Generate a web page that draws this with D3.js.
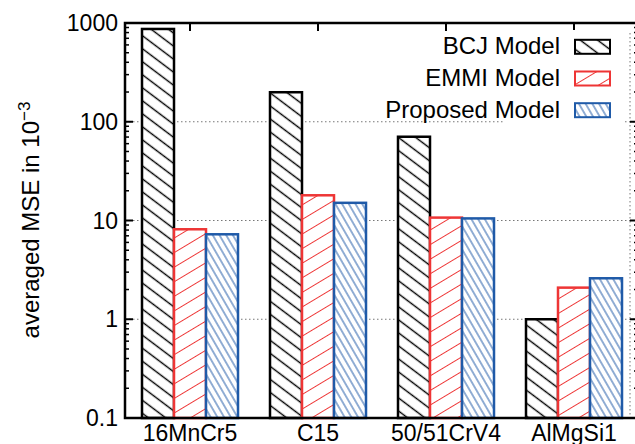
<!DOCTYPE html>
<html>
<head>
<meta charset="utf-8">
<script src="https://cdn.jsdelivr.net/npm/d3@7"></script>
<style>
  html, body { margin: 0; padding: 0; background: #fff; }
  svg { display: block; }
  text { font-family: "Liberation Sans", Arial, Helvetica, sans-serif; fill: #000; }
</style>
</head>
<body>
<svg id="chart" width="635" height="444"></svg>
<script>
// ---- data ----
const categories = ["16MnCr5", "C15", "50/51CrV4", "AlMgSi1"];
const seriesNames = ["BCJ Model", "EMMI Model", "Proposed Model"];
const bcjValues = [870, 199, 70.5, 1.0];
const emmiValues = [8.15, 18.0, 10.7, 2.09];
const proposedValues = [7.25, 15.1, 10.5, 2.6];
const yTickValues = [0.1, 1, 10, 100, 1000];
const yTickLabels = ["0.1", "1", "10", "100", "1000"];
const yLabel = "averaged MSE in 10";
const yLabelExp = "\u22123";

const seriesValues = [bcjValues, emmiValues, proposedValues];
const seriesColors = ["#000000", "#ee3535", "#1f5aa8"];
const patternIds = ["pat-bcj", "pat-emmi", "pat-prop"];

const svg = d3.select("#chart");
const pL = 125, pR = 638, pT = 23, pB = 418;

const x = d3.scaleBand().domain(categories).range([126, 638]).paddingInner(0.25).paddingOuter(0.125);
const xs = d3.scaleBand().domain(seriesNames).range([0, x.bandwidth()]);
const y = d3.scaleLog().domain([0.1, 1000]).range([pB, pT]);

// ---- patterns ----
const defs = svg.append("defs");
function linePattern(id, color, spacing, angle, width) {
  const p = defs.append("pattern")
    .attr("id", id)
    .attr("patternUnits", "userSpaceOnUse")
    .attr("width", 40).attr("height", spacing)
    .attr("patternTransform", `rotate(${angle})`);
  p.append("rect").attr("width", 40).attr("height", spacing).attr("fill", "#fff");
  p.append("line").attr("x1", 0).attr("x2", 40)
    .attr("y1", spacing / 2).attr("y2", spacing / 2)
    .attr("stroke", color).attr("stroke-width", width);
}
linePattern("pat-bcj", "#000", 10.4, 37, 1.2);
linePattern("pat-emmi", "#ee3535", 12.5, -31, 1.2);
linePattern("pat-prop", "#1f5aa8", 5.8, 60, 1.2);

// ---- grid ----
const grid = svg.append("g");
[1, 10, 100].forEach(v => {
  grid.append("line")
    .attr("x1", pL).attr("x2", pR)
    .attr("y1", y(v)).attr("y2", y(v))
    .attr("stroke", "#777").attr("stroke-width", 1)
    .attr("stroke-dasharray", "1.5,2.5");
});
grid.append("line")
  .attr("x1", 630).attr("x2", 630).attr("y1", pT + 10).attr("y2", pB)
  .attr("stroke", "#777").attr("stroke-width", 1).attr("stroke-dasharray", "1.5,2.5");

// ---- bottom ticks (behind bars) ----
categories.forEach(c => {
  const cx = x(c) + x.bandwidth() / 2;
  svg.append("line").attr("x1", cx).attr("x2", cx).attr("y1", pB).attr("y2", pB - 8)
    .attr("stroke", "#000").attr("stroke-width", 2);
});

// ---- bars ----
const bars = svg.append("g");
seriesNames.forEach((s, si) => {
  bars.selectAll(null)
    .data(categories.map((c, i) => ({ c, v: seriesValues[si][i] })))
    .enter().append("rect")
    .attr("x", d => x(d.c) + xs(s))
    .attr("width", xs.bandwidth())
    .attr("y", d => y(d.v))
    .attr("height", d => pB - y(d.v))
    .attr("fill", `url(#${patternIds[si]})`)
    .attr("stroke", seriesColors[si])
    .attr("stroke-width", 2.5);
});

// ---- axes ----
const axesG = svg.append("g");
const minor = [];
for (let e = -1; e < 3; e++) for (let m = 2; m <= 9; m++) minor.push(m * Math.pow(10, e));
minor.forEach(v => {
  axesG.append("line").attr("x1", pL).attr("x2", pL + 4).attr("y1", y(v)).attr("y2", y(v))
    .attr("stroke", "#000").attr("stroke-width", 1.5);
  axesG.append("line").attr("x1", pR).attr("x2", pR - 4).attr("y1", y(v)).attr("y2", y(v))
    .attr("stroke", "#000").attr("stroke-width", 1.5);
});
yTickValues.forEach((v, i) => {
  axesG.append("line").attr("x1", pL).attr("x2", pL + 8).attr("y1", y(v)).attr("y2", y(v))
    .attr("stroke", "#000").attr("stroke-width", 2);
  axesG.append("line").attr("x1", pR).attr("x2", pR - 8).attr("y1", y(v)).attr("y2", y(v))
    .attr("stroke", "#000").attr("stroke-width", 2);
  axesG.append("text").attr("x", 118).attr("y", y(v)).attr("dy", "0.35em")
    .attr("text-anchor", "end").attr("font-size", 23).text(yTickLabels[i]);
});
categories.forEach(c => {
  const cx = x(c) + x.bandwidth() / 2;
  axesG.append("line").attr("x1", cx).attr("x2", cx).attr("y1", pT).attr("y2", pT + 8)
    .attr("stroke", "#000").attr("stroke-width", 2);
  axesG.append("text").attr("x", cx).attr("y", 441).attr("text-anchor", "middle")
    .attr("font-size", 23).text(c);
});
axesG.append("rect").attr("x", pL).attr("y", pT).attr("width", pR - pL).attr("height", pB - pT)
  .attr("fill", "none").attr("stroke", "#000").attr("stroke-width", 2.5);

// ---- y label ----
const yl = svg.append("text")
  .attr("transform", "translate(39,220) rotate(-90)")
  .attr("text-anchor", "middle").attr("font-size", 24);
yl.append("tspan").text(yLabel);
yl.append("tspan").attr("dy", -9).attr("font-size", 17).text(yLabelExp);

// ---- legend ----
const leg = svg.append("g");
leg.append("rect").attr("x", 503).attr("y", 30).attr("width", 122).attr("height", 96).attr("fill", "#fff");
seriesNames.forEach((s, i) => {
  const base = 54.3 + i * 31.7;
  leg.append("text").attr("x", 560).attr("y", base).attr("text-anchor", "end")
    .attr("font-size", 24).text(s);
  leg.append("rect").attr("x", 575).attr("y", base - 14.5).attr("width", 35).attr("height", 14)
    .attr("fill", `url(#${patternIds[i]})`).attr("stroke", seriesColors[i]).attr("stroke-width", 2);
});
</script>
</body>
</html>
